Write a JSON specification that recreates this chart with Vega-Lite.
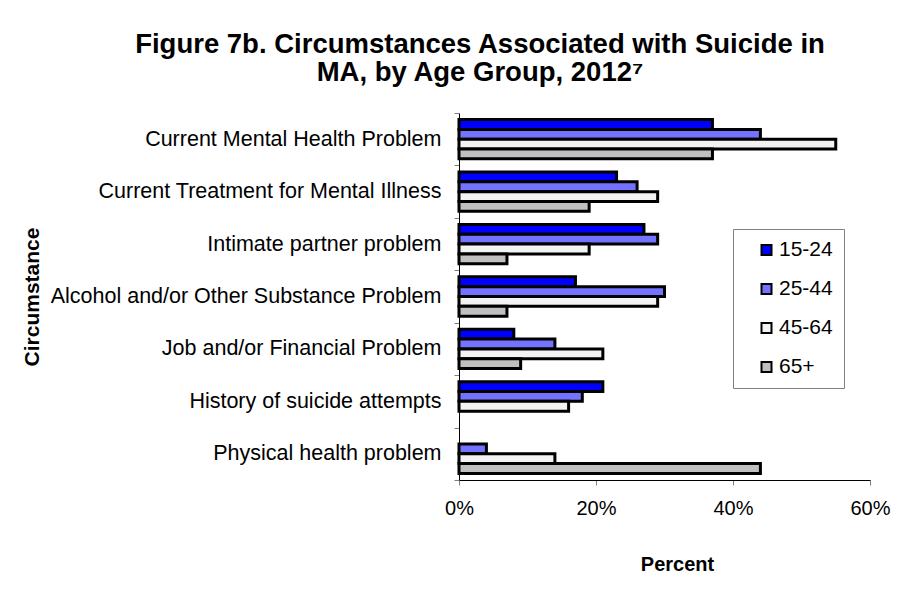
{
  "$schema": "https://vega.github.io/schema/vega-lite/v6.json",
  "width": 411,
  "height": 367,
  "autosize": {"type": "none"},
  "padding": {"left": 459, "top": 113, "right": 31, "bottom": 119},
  "background": "white",
  "title": {
    "text": ["Figure 7b. Circumstances Associated with Suicide in", "MA, by Age Group, 2012⁷"],
    "font": "Liberation Sans",
    "fontSize": 27.5,
    "fontWeight": "bold",
    "color": "black",
    "anchor": "middle",
    "frame": "group",
    "dx": -184.5,
    "offset": 16,
    "lineHeight": 28
  },
  "data": {
    "values": [
      {"circumstance": "Current Mental Health Problem", "age": "15-24", "pct": 0.37},
      {"circumstance": "Current Mental Health Problem", "age": "25-44", "pct": 0.44},
      {"circumstance": "Current Mental Health Problem", "age": "45-64", "pct": 0.55},
      {"circumstance": "Current Mental Health Problem", "age": "65+", "pct": 0.37},
      {"circumstance": "Current Treatment for Mental Illness", "age": "15-24", "pct": 0.23},
      {"circumstance": "Current Treatment for Mental Illness", "age": "25-44", "pct": 0.26},
      {"circumstance": "Current Treatment for Mental Illness", "age": "45-64", "pct": 0.29},
      {"circumstance": "Current Treatment for Mental Illness", "age": "65+", "pct": 0.19},
      {"circumstance": "Intimate partner problem", "age": "15-24", "pct": 0.27},
      {"circumstance": "Intimate partner problem", "age": "25-44", "pct": 0.29},
      {"circumstance": "Intimate partner problem", "age": "45-64", "pct": 0.19},
      {"circumstance": "Intimate partner problem", "age": "65+", "pct": 0.07},
      {"circumstance": "Alcohol and/or Other Substance Problem", "age": "15-24", "pct": 0.17},
      {"circumstance": "Alcohol and/or Other Substance Problem", "age": "25-44", "pct": 0.30},
      {"circumstance": "Alcohol and/or Other Substance Problem", "age": "45-64", "pct": 0.29},
      {"circumstance": "Alcohol and/or Other Substance Problem", "age": "65+", "pct": 0.07},
      {"circumstance": "Job and/or Financial Problem", "age": "15-24", "pct": 0.08},
      {"circumstance": "Job and/or Financial Problem", "age": "25-44", "pct": 0.14},
      {"circumstance": "Job and/or Financial Problem", "age": "45-64", "pct": 0.21},
      {"circumstance": "Job and/or Financial Problem", "age": "65+", "pct": 0.09},
      {"circumstance": "History of suicide attempts", "age": "15-24", "pct": 0.21},
      {"circumstance": "History of suicide attempts", "age": "25-44", "pct": 0.18},
      {"circumstance": "History of suicide attempts", "age": "45-64", "pct": 0.16},
      {"circumstance": "Physical health problem", "age": "25-44", "pct": 0.04},
      {"circumstance": "Physical health problem", "age": "45-64", "pct": 0.14},
      {"circumstance": "Physical health problem", "age": "65+", "pct": 0.44}
    ]
  },
  "mark": {"type": "bar", "stroke": "black", "strokeWidth": 3},
  "encoding": {
    "y": {
      "field": "circumstance",
      "type": "nominal",
      "sort": ["Current Mental Health Problem", "Current Treatment for Mental Illness", "Intimate partner problem", "Alcohol and/or Other Substance Problem", "Job and/or Financial Problem", "History of suicide attempts", "Physical health problem"],
      "scale": {"paddingInner": 0, "paddingOuter": 0},
      "axis": {
        "title": "Circumstance",
        "titleFont": "Liberation Sans",
        "titleFontSize": 21,
        "titleFontWeight": "bold",
        "titleColor": "black",
        "titleX": -421,
        "titleY": 183.5,
        "titleAngle": -90,
        "titleAlign": "center",
        "titleBaseline": "alphabetic",
        "labelFont": "Liberation Sans",
        "labelFontSize": 21.5,
        "labelColor": "black",
        "labelLimit": 600,
        "labelPadding": 13,
        "tickSize": 5,
        "tickColor": "#808080",
        "tickBand": "extent",
        "domainColor": "black",
        "grid": false
      }
    },
    "yOffset": {
      "field": "age",
      "type": "nominal",
      "sort": ["15-24", "25-44", "45-64", "65+"],
      "scale": {"paddingInner": 0, "paddingOuter": 0.67}
    },
    "x": {
      "field": "pct",
      "type": "quantitative",
      "scale": {"domain": [0, 0.6], "nice": false},
      "axis": {
        "title": "Percent",
        "titleFont": "Liberation Sans",
        "titleFontSize": 20,
        "titleFontWeight": "bold",
        "titleColor": "black",
        "titleX": 218,
        "titleY": 90,
        "titleAlign": "center",
        "titleBaseline": "alphabetic",
        "values": [0, 0.2, 0.4, 0.6],
        "format": ".0%",
        "labelFont": "Liberation Sans",
        "labelFontSize": 20,
        "labelColor": "black",
        "labelBaseline": "alphabetic",
        "labelPadding": 29,
        "labelFlush": false,
        "tickSize": 5,
        "tickColor": "#808080",
        "domainColor": "black",
        "grid": false
      }
    },
    "fill": {
      "field": "age",
      "type": "nominal",
      "scale": {"domain": ["15-24", "25-44", "45-64", "65+"], "range": ["#0000ff", "#7373ff", "#f3f3f3", "#c0c0c0"]},
      "legend": {
        "orient": "none",
        "legendX": 274,
        "legendY": 116,
        "title": null,
        "labelFont": "Liberation Sans",
        "labelFontSize": 21,
        "labelColor": "black",
        "labelOffset": 2,
        "labelExpr": "datum.label + '\u00a0\u00a0\u00a0'",
        "symbolType": "square",
        "symbolSize": 100,
        "symbolStrokeColor": "black",
        "symbolStrokeWidth": 2,
        "symbolOffset": 12.5,
        "rowPadding": 17,
        "padding": 10.5,
        "strokeColor": "#808080",
        "fillColor": "white"
      }
    }
  },
  "config": {"view": {"stroke": null}, "font": "Liberation Sans"}
}
